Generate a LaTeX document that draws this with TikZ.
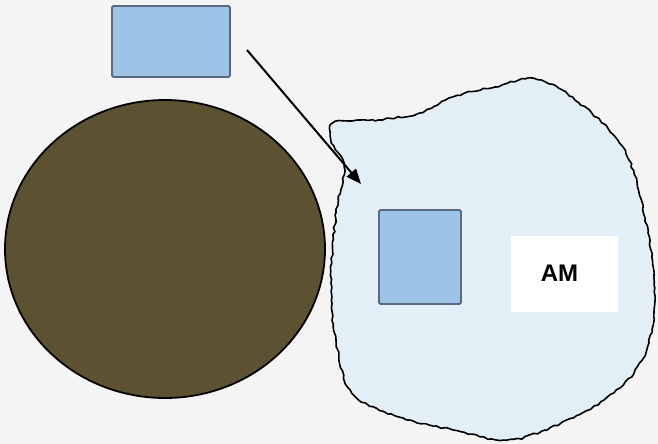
\documentclass[tikz,border=0pt]{standalone}
\usepackage{fontspec}
\setmainfont{Liberation Sans}
\usetikzlibrary{arrows.meta,decorations.pathmorphing,shapes.geometric}
\definecolor{bg}{HTML}{F4F4F4}
\definecolor{boxblue}{HTML}{9DC3E6}
\definecolor{boxedge}{HTML}{5A6A80}
\definecolor{cellbrown}{HTML}{5C5232}
\definecolor{blobfill}{HTML}{E3EFF7}
\tikzset{
  bluebox/.style={draw=boxedge, fill=boxblue, line width=1.8pt, rounded corners=1.5pt, inner sep=0pt},
  wavy/.style={draw=black, line width=1.6pt, decorate, decoration={random steps, segment length=4pt, amplitude=1pt}, line join=round},
}
\begin{document}
\begin{tikzpicture}[x=1pt,y=-1pt]
\fill[bg] (0,0) rectangle (658,444);
\useasboundingbox (0,0) rectangle (658,444);
% blob
\fill[blobfill] plot[smooth cycle, tension=0.6] coordinates {
 (336,122) (378,120) (420,113) (453,97) (495,87) (541,80) (596,117) (629,160) (648,233) (655,300) (642,360) (604,400) (545,430) (504,440) (453,430) (399,417) (352,393) (336,340) (331,283) (336,213) (344,167) (331,140)};
\draw[wavy] plot[smooth cycle, tension=0.6] coordinates {
 (336,122) (378,120) (420,113) (453,97) (495,87) (541,80) (596,117) (629,160) (648,233) (655,300) (642,360) (604,400) (545,430) (504,440) (453,430) (399,417) (352,393) (336,340) (331,283) (336,213) (344,167) (331,140)};
% circle
\node (cell) [ellipse, draw=black, line width=1.8pt, fill=cellbrown, minimum width=320pt, minimum height=298pt, inner sep=0pt] at (165,249) {};
% boxes
\node (top) [bluebox, minimum width=118pt, minimum height=71pt] at (171,41.5) {};
\node (inner) [bluebox, minimum width=82pt, minimum height=94pt] at (420,257) {};
\node (am) [fill=white, minimum width=107pt, minimum height=76pt, font=\bfseries\fontsize{24}{28}\selectfont] at (564.5,273.5) {AM\hspace*{10pt}};
% arrow
\coordinate (a1) at (247,50);
\coordinate (a2) at (361,184);
\draw[line width=2pt, -{Triangle[length=15pt,width=12pt]}] (a1) -- (a2);
\end{tikzpicture}
\end{document}
